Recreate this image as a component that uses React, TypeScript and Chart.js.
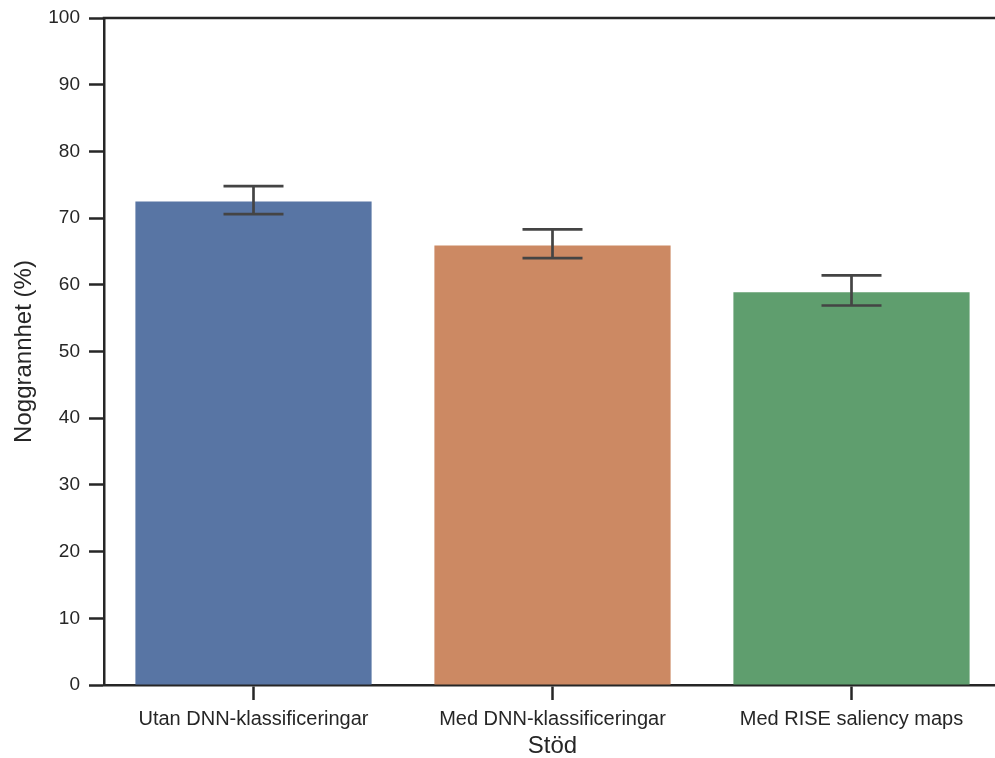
import React, { useEffect, useRef } from "react";
import { Chart, registerables } from "chart.js";

Chart.register(...registerables);

const categories = [
  "Utan DNN-klassificeringar",
  "Med DNN-klassificeringar",
  "Med RISE saliency maps",
];
const accuracy = [72.5, 65.9, 58.9];
const errLow = [70.6, 64.0, 56.9];
const errHigh = [74.8, 68.3, 61.4];
const barColors = ["#5875a4", "#cc8963", "#5f9e6e"];
const yTicks = [0, 10, 20, 30, 40, 50, 60, 70, 80, 90, 100];

const INK = "#262626";
const ERR = "#444444";
const FONT = "'Liberation Sans', Arial, sans-serif";

// Error bars with caps, plus the top spine
const errorBarPlugin = {
  id: "errorBars",
  afterDatasetsDraw(chart: any) {
    const { ctx, scales } = chart;
    const x = scales.x;
    const y = scales.y;
    ctx.save();
    ctx.strokeStyle = ERR;
    ctx.lineWidth = 2.7;
    ctx.lineCap = "butt";
    const capHalf = 30;
    categories.forEach((_, i) => {
      const cx = x.getPixelForValue(i);
      const yl = y.getPixelForValue(errLow[i]);
      const yh = y.getPixelForValue(errHigh[i]);
      ctx.beginPath();
      ctx.moveTo(cx, yl);
      ctx.lineTo(cx, yh);
      ctx.moveTo(cx - capHalf, yh);
      ctx.lineTo(cx + capHalf, yh);
      ctx.moveTo(cx - capHalf, yl);
      ctx.lineTo(cx + capHalf, yl);
      ctx.stroke();
    });
    ctx.restore();
  },
  afterDraw(chart: any) {
    const { ctx, chartArea } = chart;
    ctx.save();
    ctx.strokeStyle = INK;
    ctx.lineWidth = 2.5;
    ctx.beginPath();
    ctx.moveTo(chartArea.left - 1.25, chartArea.top);
    ctx.lineTo(chartArea.right + 10, chartArea.top);
    ctx.stroke();
    ctx.restore();
  },
};

export default function App() {
  const ref = useRef<HTMLCanvasElement | null>(null);

  useEffect(() => {
    const canvas = ref.current;
    if (!canvas) return;
    const chart = new Chart(canvas, {
      type: "bar",
      data: {
        labels: categories,
        datasets: [
          {
            data: accuracy,
            backgroundColor: barColors,
            borderWidth: 0,
            categoryPercentage: 0.79,
            barPercentage: 1,
          },
        ],
      },
      options: {
        responsive: false,
        animation: false,
        devicePixelRatio: 1,
        layout: { padding: { left: 0, right: 2, top: 18, bottom: 0 } },
        plugins: {
          legend: { display: false },
          tooltip: { enabled: false },
        },
        scales: {
          x: {
            type: "category",
            offset: true,
            grid: {
              offset: false,
              display: true,
              drawOnChartArea: false,
              drawTicks: true,
              tickLength: 15,
              tickWidth: 2.5,
              tickColor: INK,
            },
            border: { display: true, color: INK, width: 2.5 },
            ticks: {
              color: INK,
              padding: 7,
              maxRotation: 0,
              font: { family: FONT, size: 20 },
            },
            title: {
              display: true,
              text: "Stöd",
              color: INK,
              padding: { top: 0, bottom: 0 },
              font: { family: FONT, size: 24, lineHeight: 1 },
            },
            afterFit(scale: any) {
              scale.height = 73;
              scale.paddingLeft = 0;
              scale.paddingRight = 0;
            },
          },
          y: {
            min: 0,
            max: 100,
            afterBuildTicks(scale: any) {
              scale.ticks = yTicks.map((v) => ({ value: v }));
            },
            grid: {
              display: true,
              drawOnChartArea: false,
              drawTicks: true,
              tickLength: 15,
              tickWidth: 2.5,
              tickColor: INK,
            },
            border: { display: true, color: INK, width: 2.5 },
            ticks: {
              color: INK,
              padding: 9,
              font: { family: FONT, size: 19 },
            },
            title: {
              display: true,
              text: "Noggrannhet (%)",
              color: INK,
              padding: { top: 12, bottom: 0 },
              font: { family: FONT, size: 24, lineHeight: 1 },
            },
            afterFit(scale: any) {
              scale.width = 104;
              scale.paddingTop = 0;
              scale.paddingBottom = 0;
            },
          },
        },
      },
      plugins: [errorBarPlugin],
    });
    return () => chart.destroy();
  }, []);

  return (
    <div
      style={{
        position: "fixed",
        left: 0,
        top: 0,
        width: 995,
        height: 758,
        overflow: "hidden",
        background: "#ffffff",
      }}
    >
      <canvas ref={ref} width={1003} height={758} style={{ display: "block" }} />
    </div>
  );
}
